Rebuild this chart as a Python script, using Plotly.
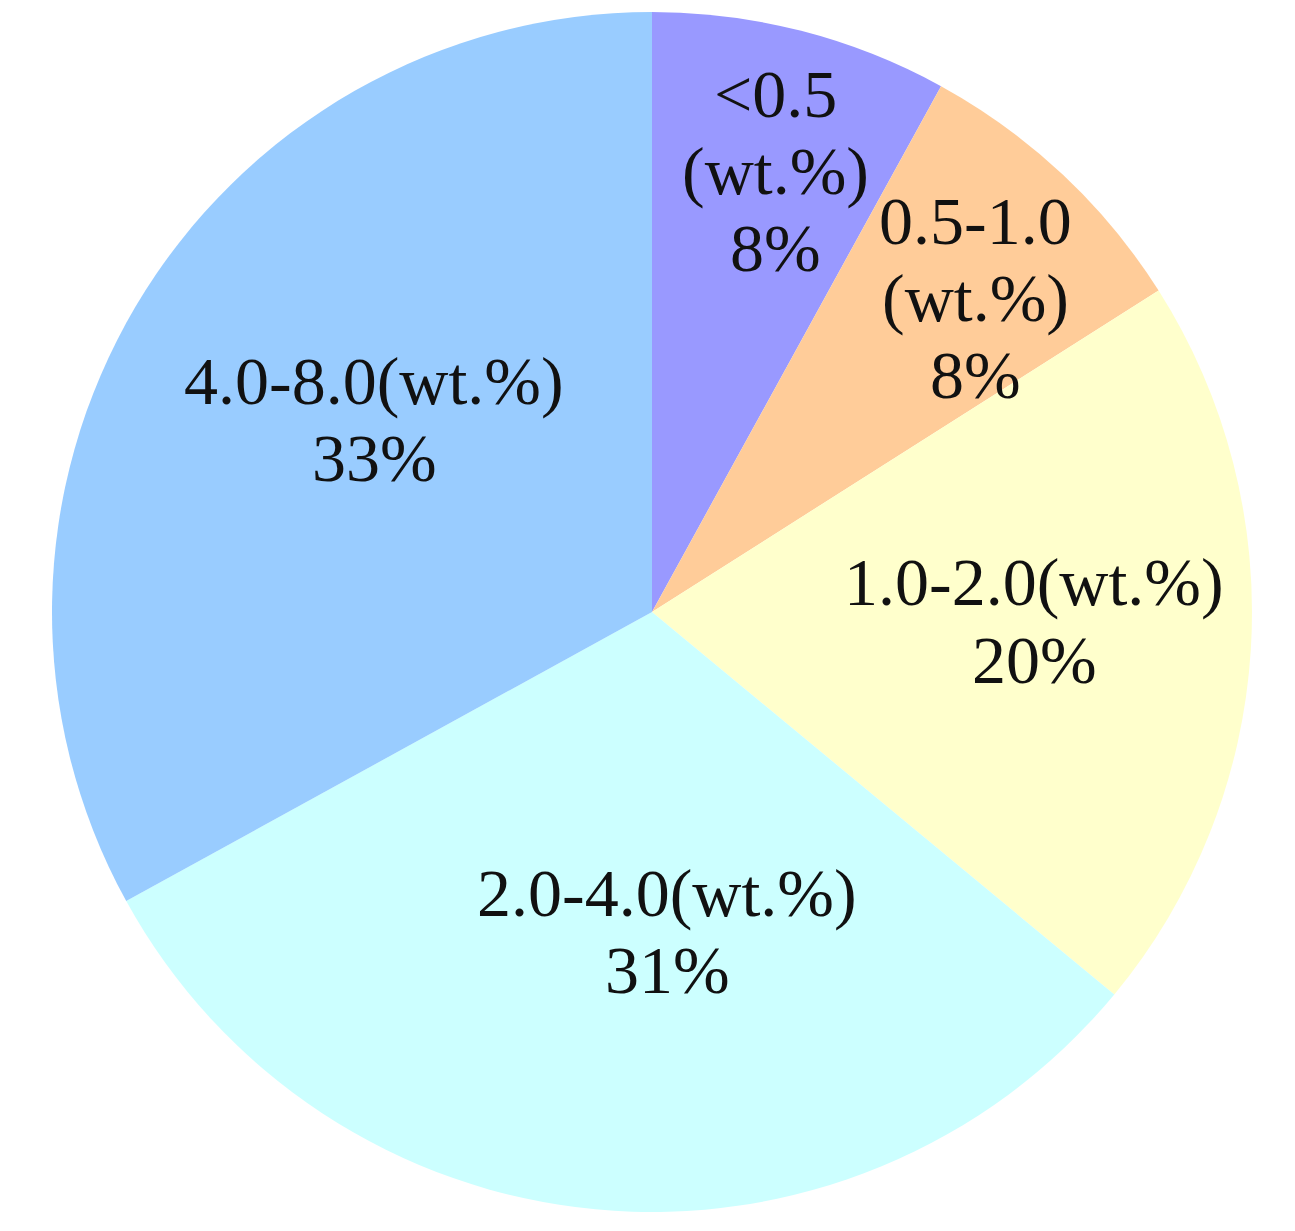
import plotly.graph_objects as go

# Data
categories = ["<0.5 (wt.%)", "0.5-1.0 (wt.%)", "1.0-2.0 (wt.%)", "2.0-4.0 (wt.%)", "4.0-8.0 (wt.%)"]
values = [8, 8, 20, 31, 33]
label_lines = [
    ["&lt;0.5", "(wt.%)", "8%"],
    ["0.5-1.0", "(wt.%)", "8%"],
    ["1.0-2.0(wt.%)", "20%"],
    ["2.0-4.0(wt.%)", "31%"],
    ["4.0-8.0(wt.%)", "33%"],
]

# Styles / layout
colors = ["#9999FF", "#FFCC99", "#FFFFCC", "#CCFFFF", "#99CCFF"]
W, H = 1295, 1231
BODY = 8  # default page body margin
ML, MR, MT, MB = 52 - BODY, 43 + BODY, 12 - BODY, 19 + BODY
label_px = [(775, 171), (975, 298), (1034, 621), (667, 931), (374, 419)]
PITCH = 77
FONT = dict(family="Liberation Serif, Times New Roman, serif", size=68, color="#111111")

fig = go.Figure(go.Pie(
    labels=categories,
    values=values,
    sort=False,
    direction="clockwise",
    rotation=0,
    marker=dict(colors=colors, line=dict(width=0)),
    textinfo="none",
    hoverinfo="label+percent",
    showlegend=False,
))

pw, ph = W - ML - MR, H - MT - MB
annotations = []
for lines, (px, py) in zip(label_lines, label_px):
    n = len(lines)
    for i, line in enumerate(lines):
        ly = py + (i - (n - 1) / 2) * PITCH
        annotations.append(dict(
            x=(px - BODY - ML) / pw, y=1 - (ly - BODY - MT) / ph,
            xref="paper", yref="paper",
            text=line, showarrow=False,
            xanchor="center", yanchor="middle", align="center",
            font=FONT,
        ))

fig.update_layout(
    width=W, height=H,
    margin=dict(l=ML, r=MR, t=MT, b=MB),
    paper_bgcolor="white",
    plot_bgcolor="white",
    annotations=annotations,
)

fig.write_html("out.html")
